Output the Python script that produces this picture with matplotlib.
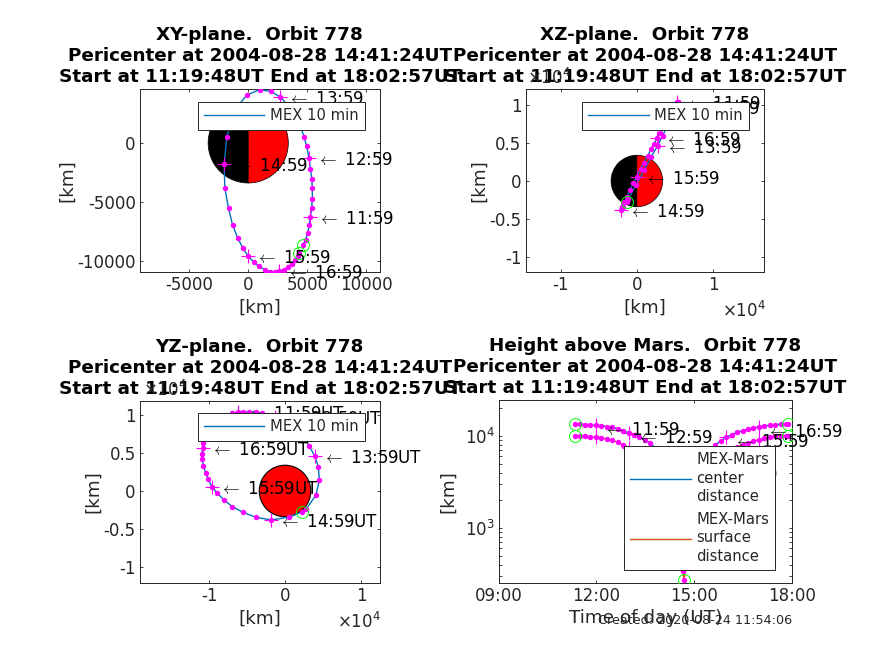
import matplotlib
matplotlib.use('Agg')
import matplotlib.pyplot as plt
from matplotlib.patches import Wedge, Circle

# orbit samples
times = ['11:21', '11:29', '11:39', '11:49', '11:59', '12:09', '12:19', '12:29', '12:39', '12:49',
         '12:59', '13:09', '13:19', '13:29', '13:39', '13:49', '13:59', '14:09', '14:19', '14:29',
         '14:39', '14:41', '14:49', '14:59', '15:09', '15:19', '15:29', '15:39', '15:49', '15:59',
         '16:09', '16:19', '16:29', '16:39', '16:49', '16:59', '17:09', '17:19', '17:29', '17:39',
         '17:49', '17:52']
x_km = [4605, 4859, 5029, 5170, 5255, 5368, 5424, 5424, 5368, 5255,
        5142, 4944, 4718, 4379, 3955, 3390, 2712, 1893, 961, -113,
        -1130, -1271, -1808, -2034, -1978, -1667, -1328, -904, -452, 0,
        480, 904, 1413, 1865, 2260, 2599, 3023, 3334, 3673, 3955,
        4181, 4322]
y_km = [-8673, -8193, -7599, -6921, -6243, -5481, -4718, -3842, -3023, -2175,
        -1271, -283, 509, 1554, 2401, 3164, 3899, 4379, 4520, 4068,
        2825, 2288, 537, -1780, -3814, -5537, -6921, -8023, -8899, -9605,
        -10114, -10453, -10735, -10905, -10905, -10848, -10735, -10537, -10227, -9888,
        -9605, -9323]
z_km = [9430, 9781, 10044, 10219, 10351, 10395, 10395, 10395, 10263, 10000,
        9693, 9342, 8904, 8026, 7149, 5965, 4605, 3202, 1447, -526,
        -2325, -2719, -3421, -3816, -3465, -2807, -2061, -1184, -307, 570,
        1579, 2412, 3290, 4167, 4868, 5614, 6272, 7061, 7807, 8465,
        8991, 9430]
center_km = [13390, 13390, 13280, 13170, 13060, 12950, 12630, 12420, 11920, 11430,
             10870, 10340, 9750, 8970, 8320, 7400, 6550, 5650, 4800, 4150,
             3730, 3660, 4010, 4300, 5000, 5800, 6900, 7980, 8900, 9670,
             10340, 10960, 11430, 11820, 12220, 12530, 12840, 13060, 13280, 13390,
             13390, 13390]
surface_km = [10000, 10000, 9890, 9780, 9670, 9560, 9240, 9030, 8530, 8040,
              7480, 6950, 6360, 5580, 4930, 4010, 3160, 2260, 1410, 760,
              340, 270, 620, 910, 1610, 2410, 3510, 4590, 5510, 6280,
              6950, 7570, 8040, 8430, 8830, 9140, 9450, 9670, 9890, 10000,
              10000, 10000]
hour_marks = ['11:59', '12:59', '13:59', '14:59', '15:59', '16:59']
circle_marks = ['11:21', '14:41', '17:52']
mars_radius = 3390

line1 = 'Pericenter at 2004-08-28 14:41:24UT'
line2 = 'Start at 11:19:48UT End at 18:02:57UT'
blue = '#0072BD'
orange = '#D95319'
dark = '#262626'
W, H = 874.0, 655.0
FS = 12

plt.rcParams['font.family'] = 'DejaVu Sans'
fig = plt.figure(figsize=(8.74, 6.55), dpi=100)


def hours(t):
    return int(t[:2]) + int(t[3:]) / 60.0


def make_axes(l, t, r, b):
    ax = fig.add_axes([l / W, 1 - b / H, (r - l) / W, (b - t) / H])
    ax.tick_params(which='both', direction='in', top=True, right=True, length=2.4, width=0.6,
                   labelsize=FS, colors=dark, pad=3)
    for s in ax.spines.values():
        s.set_linewidth(0.7)
        s.set_color(dark)
    return ax


def set_text(ax, name, xpad, ypad):
    # titles, axis labels and legends sit at fixed places
    ax.set_title('%s.  Orbit 778\n%s\n%s' % (name, line1, line2), fontsize=13.2, fontweight='bold',
                 pad=5, linespacing=1.2)
    ax.set_xlabel(xlabel_text.get(name, '[km]'), fontsize=13.2, color=dark, labelpad=xpad)
    ax.set_ylabel('[km]', fontsize=13.2, color=dark, labelpad=ypad)


xlabel_text = {'Height above Mars': 'Time of day (UT)'}


def add_legend(ax, handles, labels, lpx, tpx, **kw):
    leg = ax.legend(handles, labels, loc='upper left', bbox_to_anchor=(lpx / W, 1 - tpx / H),
                    bbox_transform=fig.transFigure, borderaxespad=0, fancybox=False, framealpha=1,
                    edgecolor=dark, fontsize=10.6, labelcolor=dark, handlelength=4.1,
                    handletextpad=0.38, borderpad=0.42, **kw)
    leg.get_frame().set_linewidth(0.7)
    for t in leg.get_texts():
        t.set_linespacing(1.3)
    return leg


def draw_marks(ax, xs, ys, suffix='', label=True, dy=-2):
    ax.plot(xs, ys, 'o', color='#FF00FF', ms=3.9, mew=0, zorder=4)
    for i, t in enumerate(times):
        if t in hour_marks:
            ax.plot(xs[i], ys[i], '+', color='#FF00FF', ms=10, mew=0.8, zorder=4)
            if label:
                ax.annotate(r'$\leftarrow$ ' + t + suffix, (xs[i], ys[i]), xytext=(8, dy),
                            textcoords='offset pixels', fontsize=FS, va='center', color='black',
                            math_fontfamily='cm', zorder=4.5)
        if t in circle_marks:
            ax.plot(xs[i], ys[i], 'o', mfc='none', mec='#00FF00', ms=8.6, mew=0.7, zorder=4)


def half_mars(ax):
    ax.add_patch(Wedge((0, 0), mars_radius, 90, 270, fc='black', ec='black', lw=0.5, zorder=1))
    ax.add_patch(Wedge((0, 0), mars_radius, -90, 90, fc='red', ec='black', lw=0.5, zorder=1))


# XY
ax1 = make_axes(140, 89, 379.5, 272)
half_mars(ax1)
l1, = ax1.plot(x_km, y_km, color=blue, lw=1, zorder=3)
draw_marks(ax1, x_km, y_km)
ax1.set_xlim(-9150, 11100)
ax1.set_ylim(-10932, 4576)
ax1.set_xticks([-5000, 0, 5000, 10000])
ax1.set_xticklabels(['-5000', '0', '5000', '10000'])
ax1.set_yticks([-10000, -5000, 0])
ax1.set_yticklabels(['-10000', '-5000', '0'])
set_text(ax1, 'XY-plane', 3, 1)
add_legend(ax1, [l1], ['MEX 10 min'], 197.7, 102.3)

# XZ
ax2 = make_axes(525.7, 89, 764, 272)
half_mars(ax2)
l2, = ax2.plot(x_km, z_km, color=blue, lw=1, zorder=3)
draw_marks(ax2, x_km, z_km)
ax2.set_xlim(-14600, 16700)
ax2.set_ylim(-11970, 12100)
ax2.set_xticks([-10000, 0, 10000])
ax2.set_xticklabels(['-1', '0', '1'])
ax2.set_yticks([-10000, -5000, 0, 5000, 10000])
ax2.set_yticklabels(['-1', '-0.5', '0', '0.5', '1'])
set_text(ax2, 'XZ-plane', 3, 1)
add_legend(ax2, [l2], ['MEX 10 min'], 582, 102.3)

# YZ
ax3 = make_axes(140, 401, 379.5, 583)
ax3.add_patch(Circle((0, 0), mars_radius, fc='red', ec='black', lw=0.8, zorder=1))
l3, = ax3.plot(y_km, z_km, color=blue, lw=1, zorder=3)
draw_marks(ax3, y_km, z_km, suffix='UT')
ax3.set_xlim(-19080, 12430)
ax3.set_ylim(-12100, 11840)
ax3.set_xticks([-10000, 0, 10000])
ax3.set_xticklabels(['-1', '0', '1'])
ax3.set_yticks([-10000, -5000, 0, 5000, 10000])
ax3.set_yticklabels(['-1', '-0.5', '0', '0.5', '1'])
set_text(ax3, 'YZ-plane', 3, 1)
add_legend(ax3, [l3], ['MEX 10 min'], 197.7, 413.3)

# height
ax4 = make_axes(498.7, 400, 792, 583)
t_h = [hours(t) for t in times]
l4, = ax4.semilogy(t_h, center_km, color=blue, lw=1, zorder=3)
l5, = ax4.semilogy(t_h, surface_km, color=orange, lw=1, zorder=3)
draw_marks(ax4, t_h, center_km, dy=-5)
draw_marks(ax4, t_h, surface_km, label=False)
ax4.set_xlim(9, 18)
ax4.set_ylim(252, 24600)
ax4.set_xticks([9, 12, 15, 18])
ax4.set_xticklabels(['09:00', '12:00', '15:00', '18:00'])
set_text(ax4, 'Height above Mars', 3, 5)
add_legend(ax4, [l4, l5], ['MEX-Mars\ncenter\ndistance', 'MEX-Mars\nsurface\ndistance'], 624.3, 446)

# the x10^4 markers
for xp, yp in [(527, 78), (722, 311), (143, 390), (337, 622)]:
    fig.text(xp / W, 1 - yp / H, r'$\times 10^{4}$', fontsize=FS, color=dark, va='center')

fig.text(792 / W, 1 - 620 / H, 'Created: 2020-08-24 11:54:06', fontsize=9.2, color=dark,
         ha='right', va='center')

fig.savefig('out.png', dpi=100)
